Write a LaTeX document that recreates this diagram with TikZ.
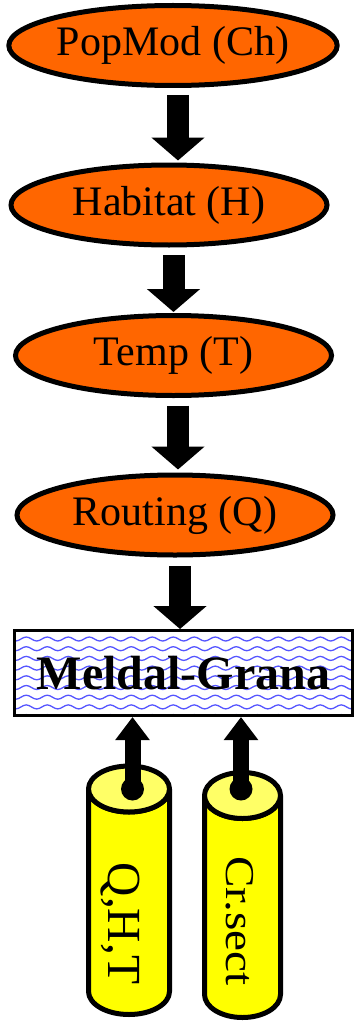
\documentclass[tikz,border=0pt]{standalone}
\usepackage{fontspec}
\setmainfont{Liberation Serif}
\usetikzlibrary{arrows.meta,shapes.geometric,calc}
\definecolor{orng}{RGB}{255,102,0}
\definecolor{cylbody}{RGB}{255,255,0}
\definecolor{cyltop}{RGB}{255,255,102}
\definecolor{wavblue}{RGB}{85,85,255}
\tikzset{
 oval/.style={ellipse, draw, line width=5pt, fill=orng, minimum width=316pt, minimum height=80pt, inner sep=0pt, font=\fontsize{42}{48}\selectfont},
 downarrow/.style={line width=22pt, -{Triangle[width=52pt,length=23pt]}},
 uparrow/.style={line width=16pt, -{Triangle[width=33pt,length=23pt]}},
 dotnode/.style={circle, fill=black, minimum size=23pt, inner sep=0pt},
 cylline/.style={line width=5pt, line join=round},
 wave/.style={wavblue, line width=1.3pt},
 cyltext/.style={rotate=-90, anchor=base, inner sep=0pt},
}
\begin{document}
\begin{tikzpicture}[x=1pt,y=-1pt]
\useasboundingbox (0,0) rectangle (356,1022);
% ellipses
\node[oval] (pop) at (173,45.5) {PopMod (Ch)};
\node[oval] (hab) at (169,205) {Habitat (H)};
\node[oval] (tmp) at (173.5,355.5) {Temp (T)};
\node[oval] (rou) at (175,515) {Routing (Q)};
% wavy background of the box
\begin{scope}
\clip (14.5,630.5) rectangle (352.5,715.5);
\foreach \r in {0,...,9} {
  \draw[wave] (0,629.3+9.7*\r) \foreach \k in {0,...,17} { sin ++(5.25,-2) cos ++(5.25,2) sin ++(5.25,2) cos ++(5.25,-2) };
}
\end{scope}
% box
\node[draw, line width=3pt, minimum width=338pt, minimum height=85pt, inner sep=0pt,
  font=\fontsize{48}{56}\selectfont\bfseries] (mg) at (183.5,673) {Meldal-Grana};
% down arrows
\coordinate (ax1) at (178,0);
\coordinate (ax2) at (173.5,0);
\coordinate (ax3) at (178,0);
\coordinate (ax4) at (180,0);
\draw[downarrow] ($(pop.south -| ax1)+(0,7)$) -- ($(hab.north -| ax1)+(0,-2)$);
\draw[downarrow] ($(hab.south -| ax2)+(0,7.5)$) -- ($(tmp.north -| ax2)+(0,-1)$);
\draw[downarrow] ($(tmp.south -| ax3)+(0,7.5)$) -- ($(rou.north -| ax3)+(0,-3)$);
\draw[downarrow] ($(rou.south -| ax4)+(0,8.5)$) -- (mg.north -| ax4);
% cylinders
\draw[cylline, fill=cylbody] (88.5,789) -- (88.5,991.5) arc[start angle=180,end angle=0,x radius=40.5,y radius=23] -- (169.5,789) arc[start angle=0,end angle=180,x radius=40.5,y radius=23] -- cycle;
\draw[cylline, fill=cyltop] (129,789) ellipse[x radius=40.5, y radius=23];
\draw[cylline, fill=cylbody] (204.5,795.5) -- (204.5,994.5) arc[start angle=180,end angle=0,x radius=38,y radius=23] -- (280.5,795.5) arc[start angle=0,end angle=180,x radius=38,y radius=23] -- cycle;
\draw[cylline, fill=cyltop] (242.5,795.5) ellipse[x radius=38, y radius=23];
\node[cyltext, font=\fontsize{47.5}{50}\selectfont] (qht) at (108,923.5) {Q,H,T};
\node[cyltext, font=\fontsize{41}{48}\selectfont] (crs) at (226,921) {\scalebox{1.15}[1]{Cr.sect}};
% up arrows
\node[dotnode] (d1) at (132.5,789) {};
\node[dotnode] (d2) at (241,789) {};
\draw[uparrow] (d1.center) -- (mg.south -| d1);
\draw[uparrow] (d2.center) -- (mg.south -| d2);
\end{tikzpicture}
\end{document}
